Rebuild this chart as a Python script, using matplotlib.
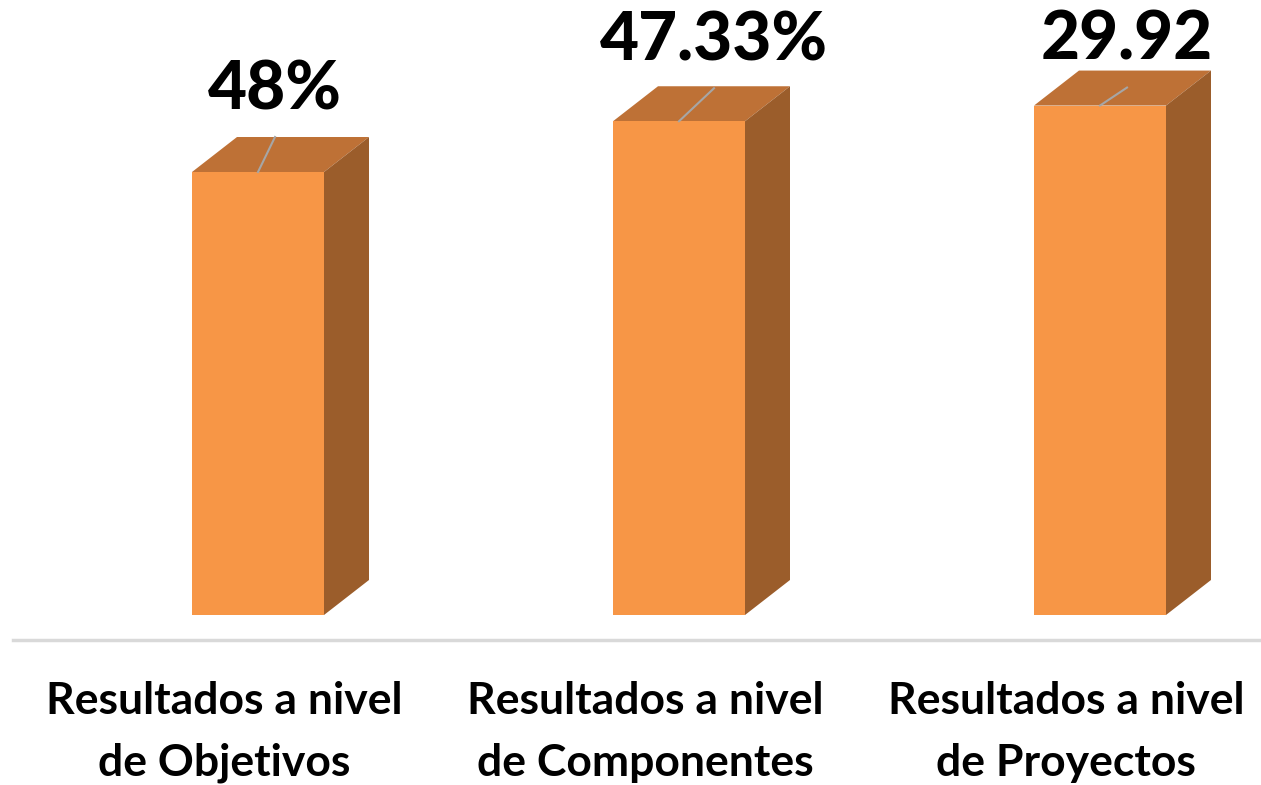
import matplotlib
matplotlib.use("Agg")
import matplotlib.pyplot as plt
from matplotlib.patches import Polygon

# ---- data ----
categories = ["Resultados a nivel\nde Objetivos",
              "Resultados a nivel\nde Componentes",
              "Resultados a nivel\nde Proyectos"]
bar_heights = [48.0, 53.5, 55.2]
value_labels = ["48%", "47.33%", "29.92"]

# ---- layout / style ----
W, H, DPI = 1261, 785, 100
PX_X = 421.0          # pixels per category unit
PX_Y = 9.229          # pixels per value unit
X0_PX = 258.0         # pixel x of first category centre
BASE_PX = 170.0       # pixel y (from bottom) of bar base
BAR_W_PX = 132.0
DEPTH_DX, DEPTH_DY = 45.0, 35.0
FRONT = "#F79646"
TOP = "#BE7136"
SIDE = "#9B5D2B"
leader_px = [(17, 35), (35, 33), (27, 18)]
label_gap_px = 47

fig = plt.figure(figsize=(W / DPI, H / DPI), dpi=DPI)
ax = fig.add_axes([0, 0, 1, 1])
ax.set_xlim(-X0_PX / PX_X, (W - X0_PX) / PX_X)
ax.set_ylim(-BASE_PX / PX_Y, (H - BASE_PX) / PX_Y)
ax.axis("off")

bw = BAR_W_PX / PX_X
ddx = DEPTH_DX / PX_X
ddy = DEPTH_DY / PX_Y

xs = list(range(len(categories)))
ax.bar(xs, bar_heights, width=bw, color=FRONT, zorder=3, linewidth=0)
for x, h in zip(xs, bar_heights):
    l, r = x - bw / 2, x + bw / 2
    top = Polygon([(l, h), (r, h), (r + ddx, h + ddy), (l + ddx, h + ddy)],
                  closed=True, facecolor=TOP, edgecolor="none", zorder=2)
    side = Polygon([(r, 0), (r + ddx, ddy), (r + ddx, h + ddy), (r, h)],
                   closed=True, facecolor=SIDE, edgecolor="none", zorder=2)
    ax.add_patch(top)
    ax.add_patch(side)

# value labels with leader lines
for x, h, lab, (lx, ly) in zip(xs, bar_heights, value_labels, leader_px):
    ex, ey = x + lx / PX_X, h + ly / PX_Y
    ax.plot([x, ex], [h, ey], color="#A6A6A6", lw=1.5, zorder=4)
    ax.text(ex, ey + label_gap_px / PX_Y, lab, ha="center", va="center",
            fontsize=48.5, fontweight="black", family="Lato", color="black", zorder=5)

# baseline
axis_y = (145 - BASE_PX) / PX_Y
ax.axhline(axis_y, xmin=13 / W, xmax=1, color="#D9D9D9", lw=2.5, zorder=1)

# category labels
for x, cat in zip(xs, categories):
    ax.text(x - 34 / PX_X, (53 - BASE_PX) / PX_Y, cat, ha="center", va="center",
            fontsize=32, fontweight="bold", family="Lato", color="black",
            linespacing=1.66)

fig.savefig("out.png", dpi=DPI)
